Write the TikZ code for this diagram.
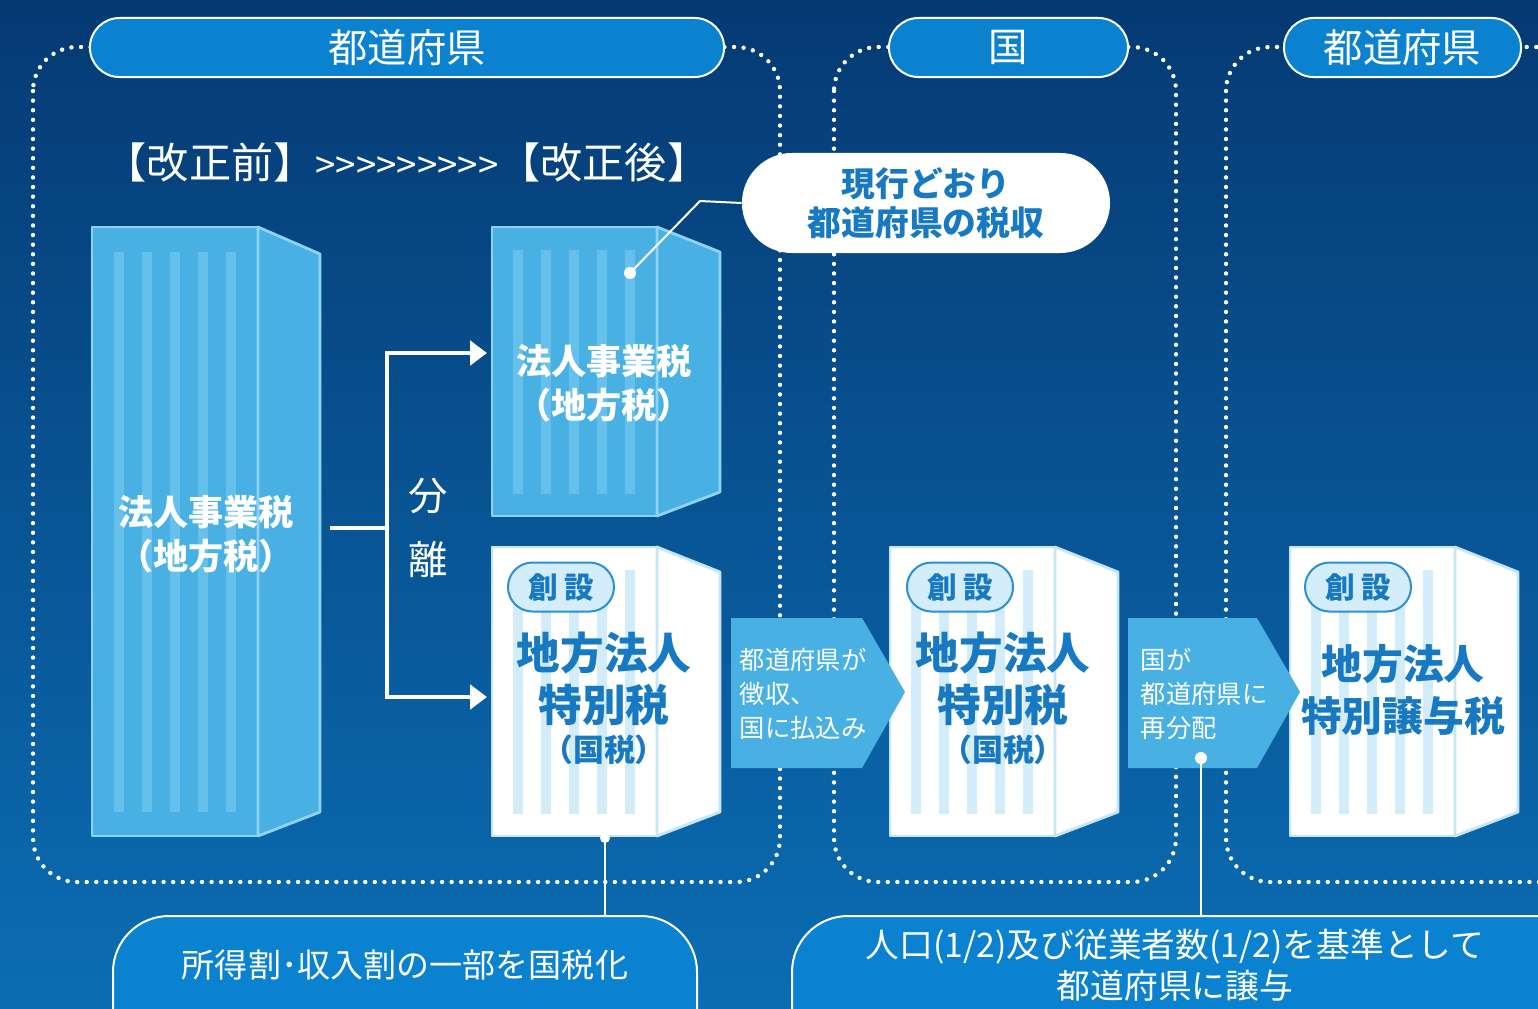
\documentclass[tikz,border=0pt]{standalone}
\usepackage{fontspec}
\setmainfont{Noto Sans CJK JP}
\newfontfamily\plainjp{Noto Sans CJK JP}
\usetikzlibrary{arrows.meta,shapes.misc,positioning,calc}
\definecolor{navy}{HTML}{053A73}
\definecolor{seablue}{HTML}{0B6DB3}
\definecolor{pillblue}{HTML}{0A82CF}
\definecolor{skyblue}{HTML}{48B0E3}
\definecolor{skyedge}{HTML}{8FD3F4}
\definecolor{skystripe}{HTML}{66C0EC}
\definecolor{paleedge}{HTML}{C4E6F8}
\definecolor{palestripe}{HTML}{D3ECFA}
\definecolor{taxblue}{HTML}{1679C1}
\definecolor{badgefill}{HTML}{D4EDFA}
\definecolor{badgeedge}{HTML}{2A90D5}

\begin{document}
\begin{tikzpicture}[x=0.025cm, y=-0.025cm,
    dotbox/.style={white, line width=0.11cm, line cap=round, dash pattern=on 0pt off 0.24cm, rounded corners=1.1cm},
    hdr/.style={rounded rectangle, draw=white, line width=0.05cm, fill=pillblue, text=white,
      minimum height=1.475cm, inner sep=0pt, font=\fontsize{28}{28}\selectfont},
    skyface/.style={fill=skyblue, draw=skyedge, line width=0.07cm, line join=round},
    whiteface/.style={fill=white, draw=paleedge, line width=0.07cm, line join=round},
    badge/.style={rounded rectangle, draw=badgeedge, line width=0.05cm, fill=badgefill, text=taxblue,
      minimum width=2.65cm, minimum height=1.225cm, inner sep=0pt, font=\fontsize{21}{21}\selectfont\bfseries},
    chev/.style={fill=skyblue},
    wline/.style={white, line width=0.1cm},
    thin/.style={white, line width=0.05cm}]
    \useasboundingbox (0,0) rectangle (1538,1008);
    \shade[top color=navy, bottom color=seablue] (0,0) rectangle (1538,1008);

    % dotted frames
    \draw[dotbox] (33,47) rectangle (780,882);
    \draw[dotbox] (834,47) rectangle (1176,882);
    \draw[dotbox] (1226,47) rectangle (1600,882);

    % headers
    \node[hdr, minimum width=15.85cm] (prefA) at (407,47.5) {都道府県};
    \node[hdr, minimum width=5.975cm] (nation) at (1008.5,47.5) {国};
    \node[hdr, minimum width=5.925cm] (prefB) at (1402.5,47.5) {都道府県};

    % title
    \node[white, inner sep=0pt, font=\plainjp\fontsize{30}{30}\selectfont] (title) at (407,162)
        {【改正前】{\fontsize{26}{26}\selectfont >>>>>>>>>}【改正後】};

    % before: big block
    \begin{scope}[shift={(92,227)}]
        \draw[skyface] (0,0) rectangle (166,609);
        \draw[skyface] (166,0) -- (228,27) -- (228,585) -- (166,609) -- cycle;
        \foreach \sx in {22,50,78,106,134} \fill[skystripe] (\sx,25) rectangle +(10,560);
    \end{scope}
    \node[white, align=center, font=\fontsize{25}{31}\selectfont\bfseries] (oldTax) at (206,534) {法人事業税\\（地方税）};

    % after: upper block
    \begin{scope}[shift={(492,227)}]
        \draw[skyface] (0,0) rectangle (165,289);
        \draw[skyface] (165,0) -- (228,25) -- (228,265) -- (165,289) -- cycle;
        \foreach \sx in {21,49,77,105,133} \fill[skystripe] (\sx,23) rectangle +(10,244);
    \end{scope}
    \node[white, align=center, font=\fontsize{25}{31}\selectfont\bfseries] (localTax) at (604,383) {法人事業税\\（地方税）};

    % white blocks
    \foreach \bx in {492,890,1290}{
        \begin{scope}[shift={(\bx,547)}]
            \draw[whiteface] (0,0) rectangle (165,289);
            \draw[whiteface] (165,0) -- (228,25) -- (228,265) -- (165,289) -- cycle;
            \foreach \sx in {21,49,77,105,133} \fill[palestripe] (\sx,23) rectangle +(10,244);
        \end{scope}
    }
    \node[badge] (newA) at (561,587) {創 設};
    \node[badge] (newB) at (960,587) {創 設};
    \node[badge] (newC) at (1358,587) {創 設};
    \node[taxblue, align=center, font=\fontsize{31}{37}\selectfont\bfseries] (specA) at (604,679) {地方法人\\特別税};
    \node[taxblue, font=\fontsize{22}{22}\selectfont\bfseries] (kokuA) at (604,750) {（国税）};
    \node[taxblue, align=center, font=\fontsize{31}{37}\selectfont\bfseries] (specB) at (1003,679) {地方法人\\特別税};
    \node[taxblue, font=\fontsize{22}{22}\selectfont\bfseries] (kokuB) at (1003,750) {（国税）};
    \node[taxblue, align=center, font=\fontsize{29}{37}\selectfont\bfseries] (joyo) at (1403,690) {地方法人\\特別譲与税};

    % split arrows
    \coordinate (outA) at (330,528);
    \coordinate (fork) at (387,528);
    \coordinate (upIn) at (487,353);
    \coordinate (downIn) at (487,697);
    \draw[wline] (outA) -- (fork);
    \draw[wline, -{Triangle[length=0.42cm,width=0.6cm]}] (fork) |- (upIn);
    \draw[wline, -{Triangle[length=0.42cm,width=0.6cm]}] (fork) |- (downIn);
    \node[white, align=center, font=\fontsize{28}{46}\selectfont] (split) at (428,528) {分\\離};

    % flow chevrons
    \fill[chev] (731,618) -- (862,618) -- (905,692) -- (862,768) -- (731,768) -- cycle;
    \node[white, anchor=west, align=left, font=\fontsize{18}{24}\selectfont] (collect) at (735,694) {都道府県が\\徴収、\\国に払込み};
    \fill[chev] (1128,618) -- (1257,618) -- (1300,692) -- (1257,768) -- (1128,768) -- cycle;
    \node[white, anchor=west, align=left, font=\fontsize{18}{24}\selectfont] (redist) at (1136,694) {国が\\都道府県に\\再分配};

    % callout
    \node[rounded rectangle, fill=white, minimum width=9.2cm, minimum height=2.5cm, inner sep=0pt,
        text=taxblue, align=center, font=\fontsize{24}{28}\selectfont\bfseries] (keep) at (926,203) {現行どおり\\都道府県の税収};
    \coordinate (keepBend) at (700,201);
    \coordinate (keepDot) at (630,273);
    \draw[thin] (keep.west) -- (keepBend) -- (keepDot);
    \fill[white] (keepDot) circle (6);

    % bottom notes
    \draw[thin, fill=pillblue, rounded corners=1.4cm] (113,916) rectangle (697,1070);
    \node[white, font=\fontsize{23.5}{23.5}\selectfont] (noteA) at (405,965) {所得割･収入割の一部を国税化};
    \draw[thin, fill=pillblue, rounded corners=1.4cm] (792,916) rectangle (1600,1070);
    \node[white, align=center, font=\fontsize{24}{29}\selectfont] (noteB) at (1175,965) {人口(1/2)及び従業者数(1/2)を基準として\\都道府県に譲与};

    \coordinate (baseA) at (605,838);
    \coordinate (topA) at (605,916);
    \draw[thin] (baseA) -- (topA);
    \fill[white] (baseA) circle (5);
    \coordinate (redistDot) at (1201,758);
    \coordinate (topB) at (1201,916);
    \draw[thin] (redistDot) -- (topB);
    \fill[white] (redistDot) circle (6);
\end{tikzpicture}
\end{document}
